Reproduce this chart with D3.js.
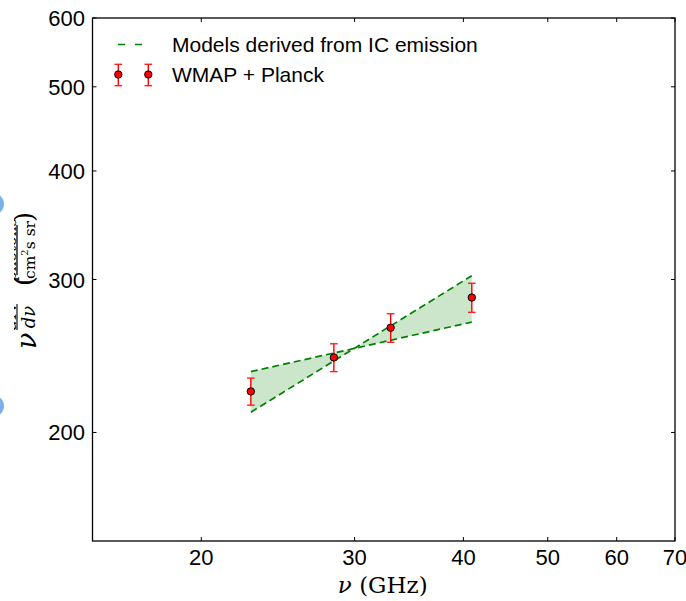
<!DOCTYPE html>
<html>
<head>
<meta charset="utf-8">
<script src="https://cdn.jsdelivr.net/npm/d3@7"></script>
<style>
  body { margin: 0; background: #fff; }
  svg { display: block; }
  .tick-label { font-family: "Liberation Sans", Arial, sans-serif; font-size: 22px; fill: #000; }
  .legend-text { font-family: "Liberation Sans", Arial, sans-serif; font-size: 21px; fill: #000; }
  .math { font-family: "DejaVu Serif", "Liberation Serif", serif; fill: #000; }
</style>
</head>
<body>
<svg width="686" height="601"></svg>
<script>
// measured points (WMAP + Planck)
const nuData = [22.8, 28.4, 33.0, 40.9];
const fluxData = [223, 244, 264, 286];
const errData = [8, 9, 10, 11];

// IC emission model envelope (two power laws)
const modelNu = [22.8, 40.9];
const modelShallow = [235, 268];
const modelSteep = [211, 303];

const xTicks = [20, 30, 40, 50, 60, 70];
const yTicks = [200, 300, 400, 500, 600];

const svg = d3.select("svg");
const plotL = 92.5, plotR = 675, plotT = 18, plotB = 541;

const x = d3.scaleLog().domain([15, 70]).range([plotL, plotR]);
const y = d3.scaleLog().domain([150, 600]).range([plotB, plotT]);

// bits of the neighbouring panel peeking in at the left edge
[204, 406].forEach(cy => {
  svg.append("circle").attr("cx", -7).attr("cy", cy).attr("r", 11)
    .attr("fill", "#5a9ee0").attr("fill-opacity", 0.8);
});

// shaded band between the two model lines
const band = modelNu.map((n, i) => [x(n), y(modelShallow[i])])
  .concat(modelNu.slice().reverse().map((n, i) => [x(n), y(modelSteep[modelNu.length - 1 - i])]));
svg.append("path")
  .attr("d", "M" + band.join("L") + "Z")
  .attr("fill", "#008000")
  .attr("fill-opacity", 0.2)
  .attr("stroke", "none");

const line = d3.line().x(d => x(d[0])).y(d => y(d[1]));
[modelShallow, modelSteep].forEach(vals => {
  svg.append("path")
    .datum(modelNu.map((n, i) => [n, vals[i]]))
    .attr("d", line)
    .attr("fill", "none")
    .attr("stroke", "#008000")
    .attr("stroke-width", 1.7)
    .attr("stroke-dasharray", "7,4");
});

// error bars
function errorbar(g, cx, cy0, cy1, cy) {
  g.append("line").attr("x1", cx).attr("x2", cx).attr("y1", cy0).attr("y2", cy1)
    .attr("stroke", "#ff0000").attr("stroke-width", 1.4);
  [cy0, cy1].forEach(cyc => {
    g.append("line").attr("x1", cx - 3.8).attr("x2", cx + 3.8).attr("y1", cyc).attr("y2", cyc)
      .attr("stroke", "#ff2020").attr("stroke-width", 1.4);
  });
  g.append("circle").attr("cx", cx).attr("cy", cy).attr("r", 3.7)
    .attr("fill", "#ff0000").attr("stroke", "#000").attr("stroke-width", 1);
}

const pts = svg.append("g");
nuData.forEach((n, i) => {
  errorbar(pts, x(n), y(fluxData[i] + errData[i]), y(fluxData[i] - errData[i]), y(fluxData[i]));
});

// axes frame with inward ticks on all sides
svg.append("rect")
  .attr("x", plotL).attr("y", plotT).attr("width", plotR - plotL).attr("height", plotB - plotT)
  .attr("fill", "none").attr("stroke", "#000").attr("stroke-width", 1.3);

const tickLen = 4;
xTicks.forEach(t => {
  const px = x(t);
  svg.append("line").attr("x1", px).attr("x2", px).attr("y1", plotB).attr("y2", plotB - tickLen).attr("stroke", "#000");
  svg.append("line").attr("x1", px).attr("x2", px).attr("y1", plotT).attr("y2", plotT + tickLen).attr("stroke", "#000");
  svg.append("text").attr("class", "tick-label")
    .attr("x", px).attr("y", plotB + 24)
    .attr("text-anchor", "middle").text(t);
});
yTicks.forEach(t => {
  const py = y(t);
  svg.append("line").attr("x1", plotL).attr("x2", plotL + tickLen).attr("y1", py).attr("y2", py).attr("stroke", "#000");
  svg.append("line").attr("x1", plotR).attr("x2", plotR - tickLen).attr("y1", py).attr("y2", py).attr("stroke", "#000");
  svg.append("text").attr("class", "tick-label")
    .attr("x", plotL - 7.5).attr("y", py + 8)
    .attr("text-anchor", "end").text(t);
});

// x label
const xl = svg.append("text").attr("class", "math")
  .attr("x", (plotL + plotR) / 2 - 1).attr("y", 593)
  .attr("text-anchor", "middle").attr("font-size", 23);
xl.append("tspan").attr("font-style", "italic").text("ν");
xl.append("tspan").text(" (GHz)");

// y label (rotated); the figure edge cuts off the numerators
svg.append("clipPath").attr("id", "ylabclip")
  .append("rect").attr("x", 14).attr("y", 0).attr("width", 50).attr("height", 601);
const yg = svg.append("g").attr("clip-path", "url(#ylabclip)")
  .append("g").attr("transform", "translate(36,352) rotate(-90)");
yg.append("text").attr("class", "math").attr("x", 3).attr("y", 0)
  .attr("font-size", 27).attr("font-style", "italic").text("ν");
// dN/dν fraction
yg.append("text").attr("class", "math").attr("x", 35).attr("y", -20.5)
  .attr("font-size", 18).attr("font-style", "italic").attr("text-anchor", "middle").text("dN");
yg.append("line").attr("x1", 22).attr("x2", 48).attr("y1", -19).attr("y2", -19)
  .attr("stroke", "#000").attr("stroke-width", 1.1);
yg.append("text").attr("class", "math").attr("x", 35).attr("y", -1)
  .attr("font-size", 18).attr("font-style", "italic").attr("text-anchor", "middle").text("dν");
// units
yg.append("text").attr("class", "math").attr("x", 66).attr("y", -3.4)
  .attr("font-size", 26).attr("font-weight", 300).text("(");
yg.append("text").attr("class", "math").attr("x", 102).attr("y", -20.5)
  .attr("font-size", 15.5).attr("text-anchor", "middle").text("photons");
yg.append("line").attr("x1", 77).attr("x2", 127).attr("y1", -19).attr("y2", -19)
  .attr("stroke", "#000").attr("stroke-width", 1.3);
const den = yg.append("text").attr("class", "math").attr("x", 102).attr("y", -1)
  .attr("font-size", 15.5).attr("text-anchor", "middle");
den.append("tspan").text("cm");
den.append("tspan").attr("font-size", 10).attr("dy", -7).text("2");
den.append("tspan").attr("dy", 7).text("s sr");
yg.append("text").attr("class", "math").attr("x", 130).attr("y", -3.4)
  .attr("font-size", 26).attr("font-weight", 300).text(")");

// legend
const lg = svg.append("g");
lg.append("line").attr("x1", 118).attr("x2", 146).attr("y1", 44.5).attr("y2", 44.5)
  .attr("stroke", "#008000").attr("stroke-width", 1.7).attr("stroke-dasharray", "7,10");
lg.append("text").attr("class", "legend-text").attr("x", 172).attr("y", 52)
  .text("Models derived from IC emission");
[118.3, 148.3].forEach(cx => errorbar(lg, cx, 64.3, 85.7, 74.5));
lg.append("text").attr("class", "legend-text").attr("x", 172).attr("y", 82)
  .text("WMAP + Planck");
</script>
</body>
</html>
